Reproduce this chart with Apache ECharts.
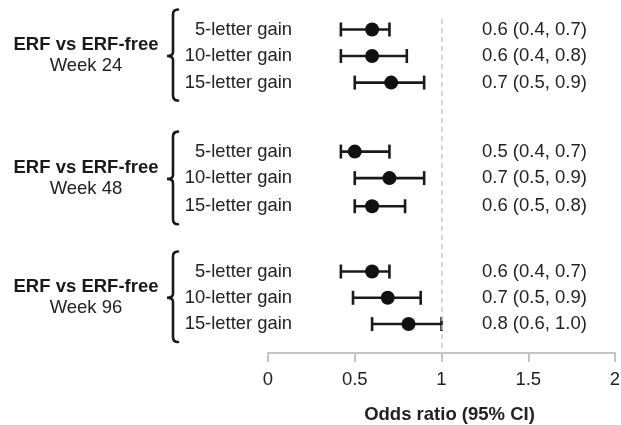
<!DOCTYPE html>
<html>
<head>
<meta charset="utf-8">
<script src="https://cdn.jsdelivr.net/npm/echarts@6/dist/echarts.min.js"></script>
<style>html,body{margin:0;padding:0;background:#fff}#chart{width:621px;height:425px}</style>
</head>
<body>
<div id="chart"></div>
<script>
// ---- data ----
const rowLabels = ['5-letter gain','10-letter gain','15-letter gain',
                   '5-letter gain','10-letter gain','15-letter gain',
                   '5-letter gain','10-letter gain','15-letter gain'];
const rowPos    = [0, 1, 2, 4.6, 5.6, 6.66, 9.12, 10.11, 11.1];
const estimates = [0.60, 0.60, 0.71, 0.50, 0.70, 0.60, 0.60, 0.69, 0.81];
const lower     = [0.42, 0.42, 0.50, 0.42, 0.50, 0.50, 0.42, 0.49, 0.60];
const upper     = [0.70, 0.80, 0.90, 0.70, 0.90, 0.79, 0.70, 0.88, 1.00];
const ciText    = ['0.6 (0.4, 0.7)','0.6 (0.4, 0.8)','0.7 (0.5, 0.9)',
                   '0.5 (0.4, 0.7)','0.7 (0.5, 0.9)','0.6 (0.5, 0.8)',
                   '0.6 (0.4, 0.7)','0.7 (0.5, 0.9)','0.8 (0.6, 1.0)'];
const groupTitle = 'ERF vs ERF-free';
const groupNames = ['Week 24', 'Week 48', 'Week 96'];
const groupRows  = [[0, 2], [3, 5], [6, 8]];   // first/last row index of each group
const xTicks = [0, 0.5, 1, 1.5, 2];
const refValue = 1;

const FONT = '"Liberation Sans", Arial, sans-serif';
const INK = '#1a1a1a';

const chart = echarts.init(document.getElementById('chart'), null, {renderer: 'canvas'});

const barData = rowPos.map((y, i) => [lower[i], upper[i], estimates[i], y, i]);
const groupData = groupRows.map((g, i) => [rowPos[g[0]], rowPos[g[1]], (rowPos[g[0]] + rowPos[g[1]]) / 2, i]);

const option = {
  backgroundColor: '#fff',
  animation: false,
  grid: {left: 268, right: 6, top: 0, bottom: 72, containLabel: false, outerBoundsMode: 'none'},
  xAxis: {
    type: 'value', min: xTicks[0], max: xTicks[xTicks.length - 1], interval: 0.5,
    axisLine: {show: true, onZero: false, lineStyle: {color: '#c4c4c4', width: 2}},
    axisTick: {show: true, inside: false, length: 9, lineStyle: {color: '#c4c4c4', width: 2}},
    axisLabel: {color: '#222', fontSize: 18.5, fontFamily: FONT, margin: 17},
    splitLine: {show: false},
    name: 'Odds ratio (95% CI)', nameLocation: 'middle', nameGap: 52,
    nameTextStyle: {color: '#222', fontSize: 18.5, fontWeight: 'bold', fontFamily: FONT, padding: [0, 0, 0, 16]}
  },
  yAxis: {
    type: 'value', inverse: true, min: -1.112, max: 12.19, show: false
  },
  series: [
    {
      type: 'custom',
      data: barData,
      renderItem: function (params, api) {
        const lo = api.coord([api.value(0), api.value(3)]);
        const hi = api.coord([api.value(1), api.value(3)]);
        const pt = api.coord([api.value(2), api.value(3)]);
        const idx = api.value(4);
        const cap = 7;
        const ls = {stroke: INK, lineWidth: 2.6};
        return {
          type: 'group',
          children: [
            {type: 'line', shape: {x1: lo[0], y1: lo[1], x2: hi[0], y2: hi[1]}, style: ls},
            {type: 'line', shape: {x1: lo[0], y1: lo[1] - cap, x2: lo[0], y2: lo[1] + cap}, style: ls},
            {type: 'line', shape: {x1: hi[0], y1: hi[1] - cap, x2: hi[0], y2: hi[1] + cap}, style: ls},
            {type: 'circle', shape: {cx: pt[0], cy: pt[1], r: 7}, style: {fill: '#111'}},
            {type: 'text', x: 292, y: pt[1], style: {text: rowLabels[idx], fill: '#222', font: '18.4px ' + FONT, align: 'right', verticalAlign: 'middle'}},
            {type: 'text', x: 482, y: pt[1], style: {text: ciText[idx], fill: '#222', font: '18.5px ' + FONT, align: 'left', verticalAlign: 'middle'}}
          ]
        };
      },
      markLine: {
        silent: true, symbol: ['none', 'none'],
        label: {show: false},
        lineStyle: {color: '#c8c8c8', width: 1.5, type: [5, 4]},
        data: [[{coord: [refValue, -0.4]}, {coord: [refValue, 12.19]}]]
      },
      z: 3
    },
    {
      type: 'custom',
      data: groupData,
      renderItem: function (params, api) {
        const top = api.coord([0, api.value(0)])[1] - 20;
        const bot = api.coord([0, api.value(1)])[1] + 18;
        const mid = api.coord([0, api.value(2)])[1];
        const gi = api.value(3);
        const x0 = 173;
        const path = 'M' + (x0 + 5) + ',' + top +
          ' Q' + x0 + ',' + top + ' ' + x0 + ',' + (top + 5) +
          ' L' + x0 + ',' + (mid - 4) +
          ' Q' + x0 + ',' + mid + ' ' + (x0 - 6) + ',' + mid +
          ' Q' + x0 + ',' + mid + ' ' + x0 + ',' + (mid + 4) +
          ' L' + x0 + ',' + (bot - 5) +
          ' Q' + x0 + ',' + bot + ' ' + (x0 + 5) + ',' + bot;
        return {
          type: 'group',
          children: [
            {type: 'path', shape: {pathData: path}, style: {stroke: INK, lineWidth: 2.6, fill: null, lineCap: 'round'}},
            {type: 'text', x: 86, y: mid - 11, style: {text: groupTitle, fill: '#1a1a1a', font: 'bold 18.5px ' + FONT, align: 'center', verticalAlign: 'middle'}},
            {type: 'text', x: 86, y: mid + 10, style: {text: groupNames[gi], fill: '#222', font: '18.5px ' + FONT, align: 'center', verticalAlign: 'middle'}}
          ]
        };
      },
      z: 2
    }
  ]
};
chart.setOption(option);
</script>
</body>
</html>
